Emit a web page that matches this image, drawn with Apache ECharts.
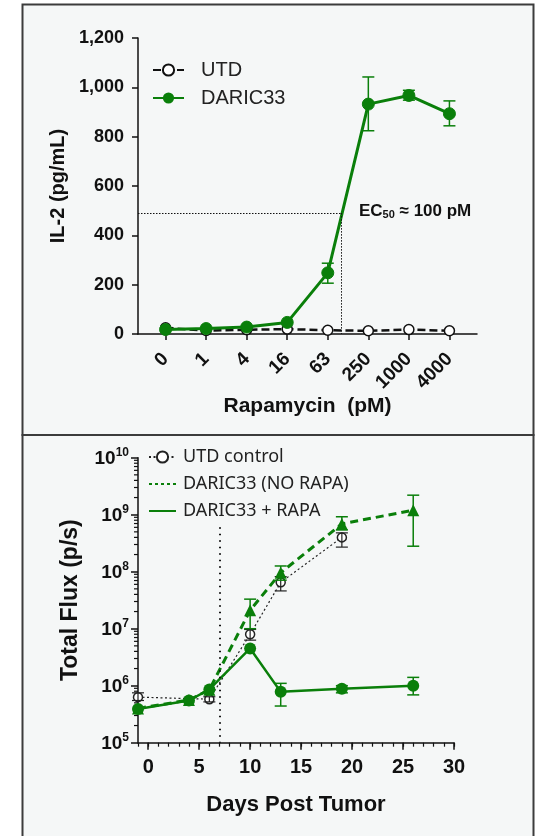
<!DOCTYPE html>
<html>
<head>
<meta charset="utf-8">
<title>DARIC33 IL-2 and flux</title>
<script src="https://cdn.jsdelivr.net/npm/echarts@6.0.0/dist/echarts.min.js"></script>
<style>
  html, body { margin: 0; padding: 0; background: #fff; }
  #chart { width: 536px; height: 836px; }
</style>
</head>
<body>
<div id="chart"></div>
<script>
// top panel: IL-2 vs rapamycin dose
var doses = ['0', '1', '4', '16', '63', '250', '1000', '4000'];
var utdIL2 = [25, 14, 17, 20, 15, 13, 18, 13];
var daricIL2 = [18, 22, 28, 47, 248, 932, 967, 893];
var daricIL2Low = [null, null, null, null, 206, 824, 948, 844];
var daricIL2High = [null, null, null, null, 287, 1042, 988, 945];
var ec50Level = 490;
var ec50Pos = 4.33;   // between 63 and 250 pM on the dose axis

// bottom panel: total flux vs days
var utdDays = [-1, 6, 10, 13, 19];
var utdFlux = [6.3e5, 5.8e5, 8.0e6, 6.5e7, 4.0e8];
var utdLow = [5.5e5, 5.2e5, 6.3e6, 4.6e7, 2.7e8];
var utdHigh = [7.5e5, 6.4e5, 9.7e6, 8.2e7, 4.8e8];

var noRapaDays = [-1, 4, 6, 10, 13, 19, 26];
var noRapaFlux = [4.0e5, 5.6e5, 8.5e5, 2.1e7, 9.6e7, 6.9e8, 1.2e9];
var noRapaLow = [null, null, null, 1.0e7, 7.1e7, 5.4e8, 2.8e8];
var noRapaHigh = [null, null, null, 3.3e7, 1.26e8, 9.2e8, 2.2e9];

var rapaDays = [-1, 4, 6, 10, 13, 19, 26];
var rapaFlux = [3.9e5, 5.5e5, 8.6e5, 4.5e6, 7.8e5, 8.8e5, 1.0e6];
var rapaLow = [null, null, null, null, 4.4e5, 7.5e5, 6.9e5];
var rapaHigh = [null, null, null, null, 1.1e6, 1.0e6, 1.4e6];

var rapaStartDay = 7;
var rapaLineTop = 6e8;

var dayTicks = [0, 5, 10, 15, 20, 25, 30];
var GREEN = '#0a7f0a';
var FONT = 'Liberation Sans, Arial, sans-serif';

function pairs(xs, ys) {
    return xs.map(function (x, i) { return [x, ys[i]]; });
}
function errData(xs, lo, hi) {
    var out = [];
    xs.forEach(function (x, i) {
        if (lo[i] != null) out.push([x, lo[i], hi[i]]);
    });
    return out;
}
function errSeries(name, xi, yi, data, color, w) {
    return {
        name: name, type: 'custom', xAxisIndex: xi, yAxisIndex: yi,
        data: data, z: 3, silent: true,
        renderItem: function (params, api) {
            var p1 = api.coord([api.value(0), api.value(1)]);
            var p2 = api.coord([api.value(0), api.value(2)]);
            var cap = 6;
            var st = {stroke: color, lineWidth: w};
            return {
                type: 'group',
                children: [
                    {type: 'line', shape: {x1: p1[0], y1: p1[1], x2: p2[0], y2: p2[1]}, style: st},
                    {type: 'line', shape: {x1: p1[0] - cap, y1: p1[1], x2: p1[0] + cap, y2: p1[1]}, style: st},
                    {type: 'line', shape: {x1: p2[0] - cap, y1: p2[1], x2: p2[0] + cap, y2: p2[1]}, style: st}
                ]
            };
        }
    };
}

// minor ticks on the log axis (2..9 of each decade)
var minorFlux = [];
for (var e = 5; e < 10; e++) {
    for (var m = 2; m <= 9; m++) minorFlux.push([-1, m * Math.pow(10, e)]);
}

var doseIdx = doses.map(function (d, i) { return i; });

var chart = echarts.init(document.getElementById('chart'));

var option = {
    backgroundColor: '#fff',
    animation: false,
    textStyle: {fontFamily: FONT},
    graphic: [
        {type: 'rect', z: -10, shape: {x: 22.5, y: 4.5, width: 511, height: 430.5},
            style: {fill: '#f5f7f7', stroke: '#3c3c3c', lineWidth: 2}},
        {type: 'rect', z: -10, shape: {x: 22.5, y: 435, width: 511, height: 404},
            style: {fill: '#f5f7f7', stroke: '#3c3c3c', lineWidth: 2}},
        {type: 'text', z: 10, left: 359, top: 203,
            style: {
                text: 'EC{sub|50} ≈ 100 pM',
                font: 'bold 17px ' + FONT, fill: '#111',
                rich: {sub: {fontSize: 11, fontWeight: 'bold', fontFamily: FONT, verticalAlign: 'bottom', padding: [6, 0, 0, 0]}}
            }}
    ],
    legend: [
        {
            orient: 'vertical', left: 152, top: 59, padding: 0,
            itemWidth: 31, itemHeight: 14, itemGap: 6,
            textStyle: {fontSize: 20, lineHeight: 22, color: '#222', fontFamily: FONT, padding: [0, 0, 0, 12]},
            data: ['UTD', 'DARIC33']
        },
        {
            orient: 'vertical', left: 148, top: 447, padding: 0,
            itemWidth: 27, itemHeight: 14, itemGap: 7,
            textStyle: {fontSize: 18, lineHeight: 20, color: '#222', fontFamily: 'Noto Sans, DejaVu Sans, sans-serif', padding: [0, 0, 0, 2]},
            data: [
                {name: 'UTD control'},
                {name: 'DARIC33 (NO RAPA)', itemStyle: {opacity: 0}, lineStyle: {type: [3, 3], width: 2}},
                {name: 'DARIC33 + RAPA', itemStyle: {opacity: 0}}
            ]
        }
    ],
    grid: [
        {left: 138, right: 59, top: 38, height: 296},
        {left: 138, right: 82, top: 457.7, height: 285}
    ],
    xAxis: [
        {
            gridIndex: 0, type: 'value', min: -0.68, max: 7.68, position: 'bottom',
            splitLine: {show: false},
            axisLine: {lineStyle: {color: '#111', width: 1.5}},
            axisTick: {show: true, customValues: doseIdx, length: 6, lineStyle: {color: '#111', width: 1.5}},
            axisLabel: {
                customValues: doseIdx, rotate: 45, margin: 22,
                fontSize: 19, fontWeight: 'bold', color: '#111', fontFamily: FONT,
                formatter: function (v) { return doses[Math.round(v)]; }
            },
            name: 'Rapamycin  (pM)', nameLocation: 'middle', nameGap: 61,
            nameTextStyle: {fontSize: 21, fontWeight: 'bold', color: '#111', fontFamily: FONT}
        },
        {
            gridIndex: 1, type: 'value', min: -1, max: 30, position: 'bottom',
            splitLine: {show: false},
            axisLine: {lineStyle: {color: '#111', width: 1.5}},
            axisTick: {show: true, customValues: dayTicks, length: 7, lineStyle: {color: '#111', width: 1.5}},
            axisLabel: {
                customValues: dayTicks, margin: 15,
                fontSize: 20, fontWeight: 'bold', color: '#111', fontFamily: FONT
            },
            name: 'Days Post Tumor', nameLocation: 'middle', nameGap: 51,
            nameTextStyle: {fontSize: 22, fontWeight: 'bold', color: '#111', fontFamily: FONT}
        },
        {
            gridIndex: 1, type: 'value', min: -1, max: 30, interval: 1, position: 'bottom', offset: 0,
            splitLine: {show: false},
            axisLine: {show: false},
            axisTick: {show: true, length: 4, lineStyle: {color: '#111', width: 1.2}},
            axisLabel: {show: false}
        }
    ],
    yAxis: [
        {
            gridIndex: 0, type: 'value', min: 0, max: 1200, interval: 200,
            splitLine: {show: false},
            axisLine: {show: true, onZero: false, lineStyle: {color: '#111', width: 1.5}},
            axisTick: {show: true, length: 6, lineStyle: {color: '#111', width: 1.5}},
            axisLabel: {
                margin: 14, fontSize: 18, fontWeight: 'bold', color: '#111', fontFamily: FONT,
                formatter: function (v) { return v.toLocaleString('en-US'); }
            },
            name: 'IL-2 (pg/mL)', nameLocation: 'middle', nameGap: 70,
            nameTextStyle: {fontSize: 20, fontWeight: 'bold', color: '#111', fontFamily: FONT}
        },
        {
            gridIndex: 1, type: 'log', logBase: 10, min: 1e5, max: 1e10,
            splitLine: {show: false},
            minorTick: {show: false},
            axisLine: {show: true, onZero: false, lineStyle: {color: '#111', width: 1.5}},
            axisTick: {show: true, length: 7, lineStyle: {color: '#111', width: 1.5}},
            axisLabel: {
                margin: 9, color: '#111',
                formatter: function (v) {
                    return '{b|10}{sup|' + Math.round(Math.log10(v)) + '}';
                },
                rich: {
                    b: {fontSize: 19, fontWeight: 'bold', fontFamily: FONT, color: '#111', lineHeight: 22, verticalAlign: 'bottom'},
                    sup: {fontSize: 12, fontWeight: 'bold', fontFamily: FONT, color: '#111', lineHeight: 22, verticalAlign: 'top'}
                }
            },
            name: 'Total Flux (p/s)', nameLocation: 'middle', nameGap: 56,
            nameTextStyle: {fontSize: 23, fontWeight: 'bold', color: '#111', fontFamily: FONT}
        }
    ],
    series: [
        // top panel
        {
            name: 'UTD', type: 'line', xAxisIndex: 0, yAxisIndex: 0,
            data: pairs(doseIdx, utdIL2),
            symbol: 'circle', symbolSize: 10, z: 2,
            lineStyle: {color: '#111', width: 2.5, type: [8, 4]},
            itemStyle: {color: '#fff', borderColor: '#111', borderWidth: 1.5}
        },
        {
            name: 'DARIC33', type: 'line', xAxisIndex: 0, yAxisIndex: 0,
            data: pairs(doseIdx, daricIL2),
            symbol: 'circle', symbolSize: 12, z: 4,
            lineStyle: {color: GREEN, width: 3},
            itemStyle: {color: GREEN, borderColor: GREEN},
            markLine: {
                silent: true, symbol: 'none', animation: false,
                label: {show: false},
                lineStyle: {color: '#111', width: 1, type: [1.5, 1.5]},
                data: [
                    [{coord: [-0.68, ec50Level]}, {coord: [ec50Pos, ec50Level]}],
                    [{coord: [ec50Pos, ec50Level]}, {coord: [ec50Pos, 0]}]
                ]
            }
        },
        errSeries('DARIC33 err', 0, 0, errData(doseIdx, daricIL2Low, daricIL2High), GREEN, 1.5),

        // bottom panel
        {
            name: 'UTD control', type: 'line', xAxisIndex: 1, yAxisIndex: 1,
            data: pairs(utdDays, utdFlux),
            symbol: 'circle', symbolSize: 9, z: 2,
            lineStyle: {color: '#222', width: 1.2, type: [2, 2.5]},
            itemStyle: {color: '#fff', borderColor: '#222', borderWidth: 1.5}
        },
        errSeries('UTD err', 1, 1, errData(utdDays, utdLow, utdHigh), '#222', 1.2),
        {
            name: 'DARIC33 (NO RAPA)', type: 'line', xAxisIndex: 1, yAxisIndex: 1,
            data: pairs(noRapaDays, noRapaFlux),
            symbol: 'triangle', symbolSize: 12, z: 3,
            lineStyle: {color: GREEN, width: 3, type: [8, 5]},
            itemStyle: {color: GREEN}
        },
        errSeries('NO RAPA err', 1, 1, errData(noRapaDays, noRapaLow, noRapaHigh), GREEN, 1.5),
        {
            name: 'DARIC33 + RAPA', type: 'line', xAxisIndex: 1, yAxisIndex: 1,
            data: pairs(rapaDays, rapaFlux),
            symbol: 'circle', symbolSize: 12, z: 4,
            lineStyle: {color: GREEN, width: 2.5},
            itemStyle: {color: GREEN},
            markLine: {
                silent: true, symbol: 'none', animation: false,
                label: {show: false},
                lineStyle: {color: '#111', width: 2, type: [1.5, 5]},
                data: [[{coord: [rapaStartDay, rapaLineTop]}, {coord: [rapaStartDay, 1e5]}]]
            }
        },
        errSeries('RAPA err', 1, 1, errData(rapaDays, rapaLow, rapaHigh), GREEN, 1.5),
        {
            name: 'minor ticks', type: 'custom', xAxisIndex: 1, yAxisIndex: 1,
            data: minorFlux, silent: true, clip: false,
            renderItem: function (params, api) {
                var p = api.coord([api.value(0), api.value(1)]);
                return {type: 'line', shape: {x1: p[0] - 4, y1: p[1], x2: p[0], y2: p[1]},
                    style: {stroke: '#111', lineWidth: 1.2}};
            }
        }
    ]
};

chart.setOption(option);
</script>
</body>
</html>
